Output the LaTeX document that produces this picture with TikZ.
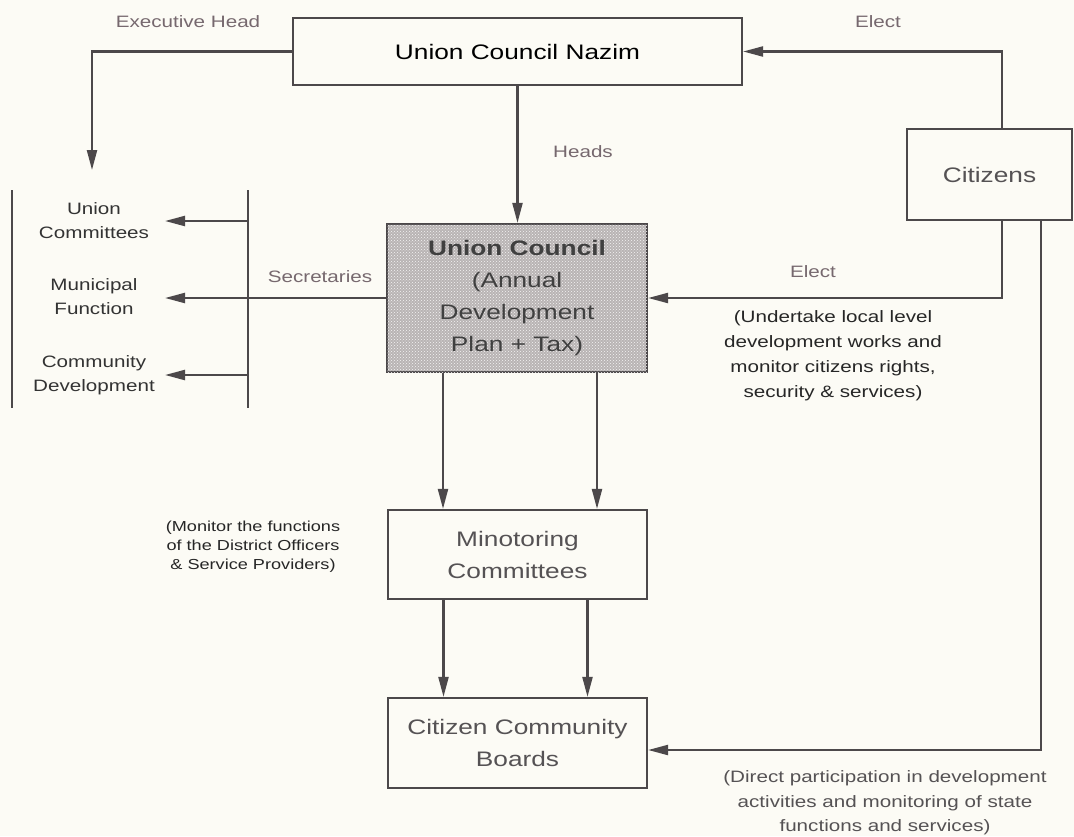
\documentclass[tikz,border=0pt]{standalone}
\usepackage{fontspec}
\setmainfont{Liberation Sans}[FakeStretch=1.25]
\usetikzlibrary{arrows.meta,patterns}
\definecolor{paper}{HTML}{FCFBF5}
\definecolor{linec}{HTML}{4C484A}
\definecolor{labelc}{HTML}{76686E}
\definecolor{boxtext}{HTML}{555254}
\definecolor{ucfill}{HTML}{B9B4B4}

\begin{document}
\begin{tikzpicture}[x=1pt,y=-1pt,
    box/.style={draw=linec,line width=2.2pt,fill=paper,inner sep=0pt,align=center,
        text=boxtext,font=\fontsize{21}{32}\selectfont},
    arr/.style={draw=linec,line width=2.2pt,-{Triangle[length=20pt,width=10pt]}},
    lbl/.style={text=labelc,font=\fontsize{16.5}{20}\selectfont},
    note/.style={align=center,text=black!85,font=\fontsize{16.5}{25}\selectfont},
    side/.style={align=center,text=black!80,font=\fontsize{16.5}{24}\selectfont}]

    \fill[paper] (0,0) rectangle (1074,836);
    \useasboundingbox (0,0) rectangle (1074,836);

    % boxes
    \node[box,minimum width=449pt,minimum height=67pt,text=black] (nazim) at (517.5,51.5) {Union Council Nazim};
    \node[box,minimum width=165pt,minimum height=91pt] (citizens) at (989.5,174.5) {Citizens};
    \node[box,minimum width=260pt,minimum height=148pt,fill=ucfill,text=black!75,
        postaction={pattern=crosshatch dots,pattern color=white!85!ucfill}] (council) at (517,298)
        {\textbf{Union Council}\\(Annual\\Development\\Plan + Tax)};
    \node[box,minimum width=259pt,minimum height=89pt] (monitor) at (517.5,554.5) {Minotoring\\Committees};
    \node[box,minimum width=259pt,minimum height=90pt] (boards) at (517.5,743) {Citizen Community\\Boards};

    % labels on the connectors
    \node[lbl] (exechead) at (188,22) {Executive Head};
    \node[lbl] (electtop) at (878,22) {Elect};
    \node[lbl] (heads) at (583,152) {Heads};
    \node[lbl] (electmid) at (813,272) {Elect};
    \node[lbl] (secr) at (320,277) {Secretaries};

    % notes
    \node[note] (undertake) at (833,355.5) {(Undertake local level\\development works and\\monitor citizens rights,\\security \& services)};
    \node[note,font=\fontsize{14.5}{19}\selectfont] (monnote) at (253,547) {(Monitor the functions\\of the District Officers\\\& Service Providers)};
    \node[note,text=boxtext,font=\fontsize{16.5}{24.5}\selectfont] (directnote) at (885,803) {(Direct participation in development\\activities and monitoring of state\\functions and services)};

    % side list
    \coordinate (bar) at (248,190);
    \coordinate (barend) at (248,408);
    \coordinate (tip) at (165,408);
    \draw[linec,line width=2pt] (bar) -- (barend);
    \draw[linec,line width=1.4pt] (12,190) -- (12,408);
    \node[side] (ucomm) at (94,221) {Union\\Committees};
    \node[side] (munic) at (94,297) {Municipal\\Function};
    \node[side] (commdev) at (94,375) {Community\\Development};
    \draw[arr] (ucomm -| bar) -- (ucomm -| tip);
    \draw[arr] (council.west) -- (council.west -| tip);
    \draw[arr] (commdev -| bar) -- (commdev -| tip);

    % connectors
    \coordinate (exec) at (92,170);
    \coordinate (elecx) at (1002,0);
    \coordinate (partx) at (1041,0);
    \draw[arr] (nazim.west) -| (exec);
    \draw[arr] (citizens.north -| elecx) |- (nazim.east);
    \draw[arr] (citizens.south -| elecx) |- (council.east);
    \draw[arr] (citizens.south -| partx) |- ([yshift=-7pt]boards.east);
    \draw[arr] (nazim.south) -- (nazim.south |- council.north);
    \foreach \dx in {-74,80}
        \draw[arr] ([xshift=\dx pt]council.south) -- ([xshift=\dx pt]council.south |- monitor.north);
    \foreach \dx in {-74,70}
        \draw[arr] ([xshift=\dx pt]monitor.south) -- ([xshift=\dx pt]monitor.south |- boards.north);
\end{tikzpicture}
\end{document}
